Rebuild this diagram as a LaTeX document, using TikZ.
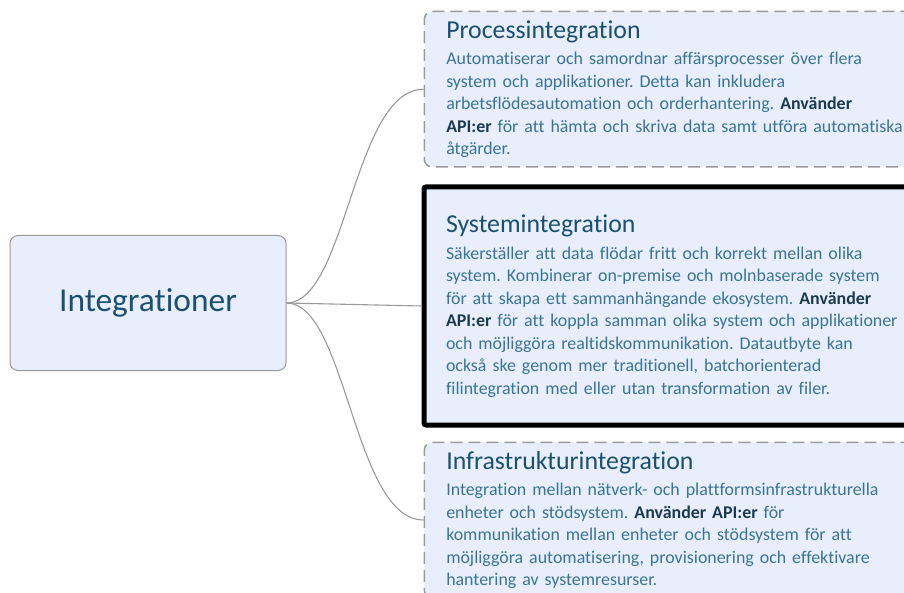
\documentclass[tikz,border=0pt]{standalone}
\usepackage{fontspec}
\setmainfont{Carlito}[Ligatures=NoCommon]
\usepackage{xcolor}

\definecolor{boxfill}{HTML}{E8EEFC}
\definecolor{titleblue}{HTML}{1A5070}
\definecolor{bodyblue}{HTML}{3A7595}
\definecolor{bolddark}{HTML}{1B3A4F}
\definecolor{linegray}{HTML}{9A9A9A}

\tikzset{
  rootbox/.style={draw=linegray, fill=boxfill, rounded corners=8pt, line width=1pt,
    minimum width=276pt, minimum height=135pt, text=titleblue,
    font=\fontsize{33.4}{38}\selectfont},
  topicbox/.style={fill=boxfill, anchor=north west, align=left, text width=560pt,
    inner xsep=22pt, font=\fontsize{17.9}{22.5}\selectfont, text=bodyblue},
  dashbox/.style={topicbox, draw=linegray, line width=1.5pt,
    dash pattern=on 12pt off 6pt, rounded corners=8pt},
  boldbox/.style={topicbox, draw=black, line width=5pt, rounded corners=2pt},
  branch/.style={draw=linegray, line width=1.1pt}
}
\newcommand{\heading}[1]{{\fontsize{25.8}{28}\selectfont\color{titleblue}#1}\\[4pt]}
\newcommand{\api}[1]{\textbf{\color{bolddark}#1}}

\begin{document}
\frenchspacing
\begin{tikzpicture}[x=1pt,y=-1pt]
\useasboundingbox (0,0) rectangle (904,593);
\clip (0,0) rectangle (904,593);
\fill[white] (0,0) rectangle (904,593);

\node[rootbox] (root) at (148,303) {Integrationer};

\node[dashbox, minimum height=155.5pt] (proc) at (423.5,10.75) {%
\heading{Processintegration}
Automatiserar och samordnar affärsprocesser över flera\\
system och applikationer. Detta kan inkludera\\
arbetsflödesautomation och orderhantering. \api{Använder}\\
\api{API:er} för att hämta och skriva data samt utföra automatiska\\
åtgärder.};

\node[boldbox, minimum height=238pt] (sys) at (421.5,184.5) {%
\heading{Systemintegration}
Säkerställer att data flödar fritt och korrekt mellan olika\\
system. Kombinerar on-premise och molnbaserade system\\
för att skapa ett sammanhängande ekosystem. \api{Använder}\\
\api{API:er} för att koppla samman olika system och applikationer\\
och möjliggöra realtidskommunikation. Datautbyte kan\\
också ske genom mer traditionell, batchorienterad\\
filintegration med eller utan transformation av filer.};

\node[dashbox, minimum height=155.5pt] (infra) at (423.5,441.5) {%
\heading{Infrastrukturintegration}
Integration mellan nätverk- och plattformsinfrastrukturella\\
enheter och stödsystem. \api{Använder API:er} för\\
kommunikation mellan enheter och stödsystem för att\\
möjliggöra automatisering, provisionering och effektivare\\
hantering av systemresurser.};

\draw[branch] (root.east) .. controls +(60,0) and +(-70,0) .. (proc.west);
\draw[branch] (root.east) -- (sys.west);
\draw[branch] (root.east) .. controls +(60,0) and +(-70,0) .. (infra.west);
\end{tikzpicture}
\end{document}
